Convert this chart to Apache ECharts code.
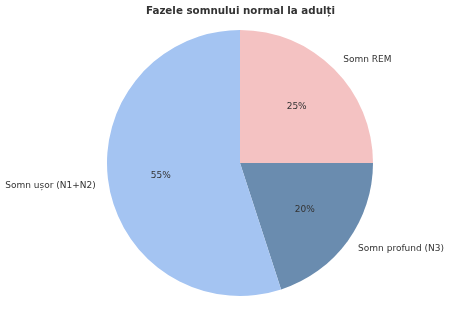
<!DOCTYPE html>
<html><head><meta charset="utf-8">
<script src="https://cdn.jsdelivr.net/npm/echarts@6/dist/echarts.min.js"></script>
<style>html,body{margin:0;padding:0;background:#fff}#c{width:450px;height:313px}</style>
</head><body><div id="c"></div>
<script>
const categories = ['Somn REM', 'Somn profund (N3)', 'Somn ușor (N1+N2)'];
const values = [25, 20, 55];
const colors = ['#f4c2c2', '#6a8caf', '#a4c4f2'];
const title = 'Fazele somnului normal la adulți';

const data = categories.map((c, i) => ({ name: c, value: values[i], itemStyle: { color: colors[i] } }));
const R = 133;
const chart = echarts.init(document.getElementById('c'), null, { renderer: 'canvas' });
chart.setOption({
  animation: false,
  title: { text: title, left: 141, top: 1,
    textStyle: { fontFamily: 'DejaVu Sans', fontWeight: 'bold', fontSize: 10.3, color: '#333' } },
  series: [
    { type: 'pie', center: [240, 163], radius: [0, R], startAngle: 90, clockwise: true,
      data: data, silent: true,
      label: { position: 'outside', formatter: '{b}', fontFamily: 'DejaVu Sans', fontSize: 9, color: '#333',
        distanceToLabelLine: 0, alignTo: 'none', overflow: 'none' },
      labelLine: { show: false, length: 13, length2: 0 },
      itemStyle: { borderWidth: 0 } },
    { type: 'pie', center: [240, 163], radius: [0, R * 1.16], startAngle: 90, clockwise: true,
      data: data.map(d => ({ name: d.name, value: d.value, itemStyle: { color: 'rgba(0,0,0,0)' } })), silent: true,
      label: { position: 'inside', formatter: '{c}%', fontFamily: 'DejaVu Sans', fontSize: 9, color: '#333' },
      labelLine: { show: false } }
  ]
});
</script></body></html>
